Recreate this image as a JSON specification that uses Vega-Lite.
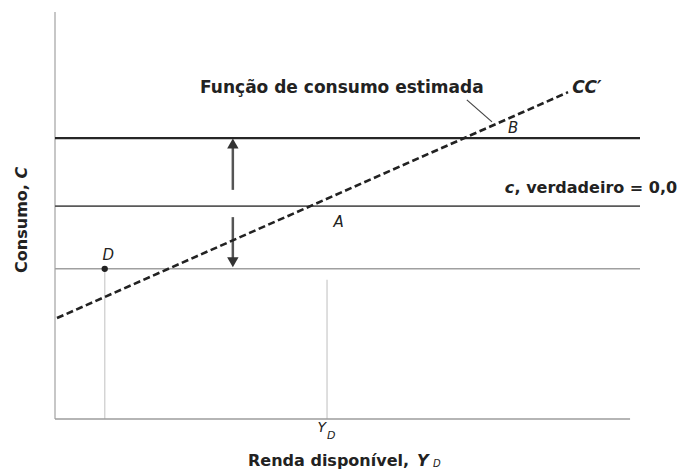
{
  "$schema": "https://vega.github.io/schema/vega-lite/v6.json",
  "width": 585,
  "height": 407,
  "autosize": "none",
  "padding": {"left": 55, "top": 12, "right": 54, "bottom": 52},
  "background": "white",
  "config": {"view": {"stroke": null}, "text": {"font": "DejaVu Sans"}},
  "datasets": {
    "rules": [
      {"kind": "axisY", "x": 0, "y": 0, "x2": 0, "y2": 100},
      {"kind": "axisX", "x": 0, "y": 0, "x2": 98.3, "y2": 0},
      {"kind": "top", "x": 0, "y": 69.0, "x2": 100, "y2": 69.0},
      {"kind": "mid", "x": 0, "y": 52.3, "x2": 100, "y2": 52.3},
      {"kind": "bot", "x": 0, "y": 36.9, "x2": 100, "y2": 36.9},
      {"kind": "guide", "x": 8.5, "y": 0, "x2": 8.5, "y2": 36.9},
      {"kind": "guide", "x": 46.5, "y": 0, "x2": 46.5, "y2": 34.2},
      {"kind": "leader", "x": 70.4, "y": 78.4, "x2": 74.7, "y2": 73.0},
      {"kind": "shaft", "x": 30.4, "y": 56.3, "x2": 30.4, "y2": 67.3},
      {"kind": "shaft", "x": 30.4, "y": 49.6, "x2": 30.4, "y2": 38.6}
    ]
  },
  "encoding": {
    "x": {"field": "x", "type": "quantitative", "scale": {"domain": [0, 100], "nice": false, "zero": false}, "axis": null},
    "y": {"field": "y", "type": "quantitative", "scale": {"domain": [0, 100], "nice": false, "zero": false}, "axis": null}
  },
  "layer": [
    {"data": {"name": "rules"}, "transform": [{"filter": "datum.kind == 'guide'"}], "mark": {"type": "rule", "color": "#d4d4d4", "strokeWidth": 1.5}, "encoding": {"x2": {"field": "x2"}, "y2": {"field": "y2"}}},
    {"data": {"name": "rules"}, "transform": [{"filter": "datum.kind == 'axisY'"}], "mark": {"type": "rule", "color": "#b4b4b4", "strokeWidth": 1.5}, "encoding": {"x2": {"field": "x2"}, "y2": {"field": "y2"}}},
    {"data": {"name": "rules"}, "transform": [{"filter": "datum.kind == 'axisX'"}], "mark": {"type": "rule", "color": "#9c9c9c", "strokeWidth": 1.5}, "encoding": {"x2": {"field": "x2"}, "y2": {"field": "y2"}}},
    {"data": {"name": "rules"}, "transform": [{"filter": "datum.kind == 'top'"}], "mark": {"type": "rule", "color": "#262626", "strokeWidth": 2.2}, "encoding": {"x2": {"field": "x2"}, "y2": {"field": "y2"}}},
    {"data": {"name": "rules"}, "transform": [{"filter": "datum.kind == 'mid'"}], "mark": {"type": "rule", "color": "#5a5a5a", "strokeWidth": 1.6}, "encoding": {"x2": {"field": "x2"}, "y2": {"field": "y2"}}},
    {"data": {"name": "rules"}, "transform": [{"filter": "datum.kind == 'bot'"}], "mark": {"type": "rule", "color": "#a0a0a0", "strokeWidth": 1.6}, "encoding": {"x2": {"field": "x2"}, "y2": {"field": "y2"}}},
    {"data": {"name": "rules"}, "transform": [{"filter": "datum.kind == 'leader'"}], "mark": {"type": "rule", "color": "#444444", "strokeWidth": 1.2}, "encoding": {"x2": {"field": "x2"}, "y2": {"field": "y2"}}},
    {"data": {"name": "rules"}, "transform": [{"filter": "datum.kind == 'shaft'"}], "mark": {"type": "rule", "color": "#555555", "strokeWidth": 2.5}, "encoding": {"x2": {"field": "x2"}, "y2": {"field": "y2"}}},
    {"data": {"values": [{"x": 30.4, "y": 67.7}]}, "mark": {"type": "point", "shape": "triangle-up", "filled": true, "color": "#333333", "size": 130, "opacity": 1}},
    {"data": {"values": [{"x": 30.4, "y": 38.5}]}, "mark": {"type": "point", "shape": "triangle-down", "filled": true, "color": "#333333", "size": 130, "opacity": 1}},
    {"data": {"values": [{"x": 0.34, "y": 24.8}, {"x": 87.7, "y": 80.3}]}, "mark": {"type": "line", "color": "#222222", "strokeWidth": 2.6, "strokeDash": [7, 3.5]}},
    {"data": {"values": [{"x": 8.5, "y": 36.9}]}, "mark": {"type": "point", "shape": "circle", "filled": true, "color": "#222222", "size": 40, "opacity": 1}},
    {"data": {"values": [{"x": 24.8, "y": 80.1, "t": "Função de consumo estimada"}]}, "mark": {"type": "text", "align": "left", "baseline": "alphabetic", "fontSize": 17, "fontWeight": "bold", "color": "#222222"}, "encoding": {"text": {"field": "t"}}},
    {"data": {"values": [{"x": 78.55, "y": 55.5, "t": ", verdadeiro = 0,0"}, {"x": 33.0, "y": -11.5, "t": "Renda disponível,"}]}, "mark": {"type": "text", "align": "left", "baseline": "alphabetic", "fontSize": 16, "fontWeight": "bold", "color": "#222222"}, "encoding": {"text": {"field": "t"}}},
    {"data": {"values": [{"x": 76.9, "y": 55.5, "t": "c"}, {"x": 61.9, "y": -11.5, "t": "Y"}]}, "mark": {"type": "text", "align": "left", "baseline": "alphabetic", "fontSize": 16, "fontWeight": "bold", "fontStyle": "italic", "color": "#222222"}, "encoding": {"text": {"field": "t"}}},
    {"data": {"values": [{"x": 88.4, "y": 80.1, "t": "CC′"}]}, "mark": {"type": "text", "align": "left", "baseline": "alphabetic", "fontSize": 17, "fontWeight": "bold", "fontStyle": "italic", "color": "#222222"}, "encoding": {"text": {"field": "t"}}},
    {"data": {"values": [{"x": 64.6, "y": -11.9, "t": "D"}]}, "mark": {"type": "text", "align": "left", "baseline": "alphabetic", "fontSize": 10, "fontStyle": "italic", "color": "#222222"}, "encoding": {"text": {"field": "t"}}},
    {"data": {"values": [{"x": 48.5, "y": 47.2, "t": "A"}, {"x": 78.3, "y": 70.3, "t": "B"}, {"x": 9.1, "y": 39.1, "t": "D"}]}, "mark": {"type": "text", "align": "center", "baseline": "alphabetic", "fontSize": 15, "fontStyle": "italic", "color": "#222222"}, "encoding": {"text": {"field": "t"}}},
    {"data": {"values": [{"x": 45.6, "y": -3.2, "t": "Y"}]}, "mark": {"type": "text", "align": "center", "baseline": "alphabetic", "fontSize": 14, "fontStyle": "italic", "color": "#222222"}, "encoding": {"text": {"field": "t"}}},
    {"data": {"values": [{"x": 47.2, "y": -4.8, "t": "D"}]}, "mark": {"type": "text", "align": "center", "baseline": "alphabetic", "fontSize": 11, "fontStyle": "italic", "color": "#222222"}, "encoding": {"text": {"field": "t"}}},
    {"data": {"values": [{"x": -5.56, "y": 35.9, "t": "Consumo,"}]}, "mark": {"type": "text", "align": "left", "baseline": "middle", "angle": 270, "fontSize": 16, "fontWeight": "bold", "color": "#222222"}, "encoding": {"text": {"field": "t"}}},
    {"data": {"values": [{"x": -5.56, "y": 59.1, "t": "C"}]}, "mark": {"type": "text", "align": "left", "baseline": "middle", "angle": 270, "fontSize": 16, "fontWeight": "bold", "fontStyle": "italic", "color": "#222222"}, "encoding": {"text": {"field": "t"}}}
  ]
}
